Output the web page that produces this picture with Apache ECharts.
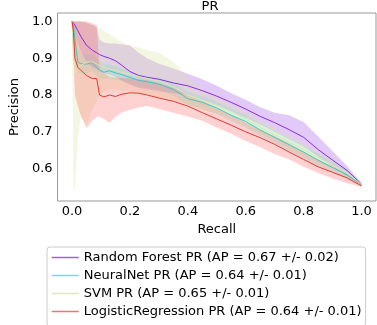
<!DOCTYPE html>
<html><head><meta charset="utf-8">
<script src="https://cdn.jsdelivr.net/npm/echarts@6/dist/echarts.min.js"></script>
<style>html,body{margin:0;padding:0;background:#fff}#c{width:377px;height:325px}</style>
</head><body><div id="c"></div>
<script>
const recall = [0,0.005,0.01,0.02,0.03,0.05,0.07,0.085,0.095,0.11,0.13,0.15,0.17,0.2,0.23,0.26,0.3,0.35,0.4,0.45,0.5,0.55,0.6,0.65,0.7,0.75,0.8,0.85,0.9,0.95,1.0];

const rfMean  = [1.0,0.995,0.99,0.975,0.96,0.935,0.922,0.915,0.91,0.905,0.9,0.893,0.882,0.864,0.853,0.848,0.843,0.833,0.825,0.812,0.797,0.78,0.762,0.742,0.725,0.706,0.685,0.652,0.623,0.595,0.558];
const rfUpper = [1.0,1.0,1.0,1.0,1.0,0.995,0.99,0.985,0.95,0.943,0.94,0.94,0.938,0.935,0.915,0.9,0.885,0.872,0.858,0.843,0.825,0.805,0.787,0.767,0.752,0.745,0.727,0.687,0.647,0.607,0.56];
const rfLower = [1.0,0.99,0.97,0.94,0.92,0.89,0.875,0.87,0.865,0.86,0.855,0.85,0.84,0.828,0.82,0.815,0.81,0.805,0.8,0.787,0.772,0.755,0.738,0.72,0.7,0.68,0.66,0.633,0.605,0.58,0.555];

const nnMean  = [1.0,0.99,0.95,0.89,0.885,0.884,0.888,0.875,0.868,0.862,0.866,0.86,0.856,0.848,0.84,0.836,0.83,0.815,0.79,0.78,0.765,0.745,0.728,0.705,0.685,0.665,0.645,0.623,0.603,0.583,0.556];
const nnUpper = [1.0,1.0,0.99,0.93,0.915,0.91,0.91,0.9,0.89,0.882,0.884,0.878,0.873,0.865,0.857,0.852,0.846,0.832,0.808,0.797,0.782,0.762,0.745,0.722,0.702,0.682,0.662,0.64,0.618,0.596,0.558];
const nnLower = [1.0,0.97,0.9,0.86,0.86,0.86,0.865,0.852,0.846,0.842,0.846,0.842,0.838,0.831,0.823,0.82,0.814,0.798,0.772,0.763,0.748,0.728,0.711,0.688,0.668,0.648,0.628,0.606,0.588,0.57,0.554];

const svmMean  = [1.0,0.9,0.86,0.87,0.88,0.89,0.89,0.885,0.88,0.875,0.87,0.868,0.862,0.857,0.85,0.845,0.838,0.822,0.8,0.785,0.772,0.755,0.735,0.712,0.692,0.672,0.652,0.63,0.61,0.588,0.557];
const svmUpper = [1.0,1.0,1.0,1.0,1.0,1.0,0.99,0.985,0.982,0.975,0.965,0.955,0.945,0.935,0.93,0.922,0.915,0.89,0.85,0.815,0.795,0.775,0.755,0.73,0.71,0.69,0.668,0.645,0.622,0.598,0.56];
const svmLower = [1.0,0.535,0.55,0.68,0.74,0.72,0.76,0.785,0.8,0.81,0.815,0.815,0.812,0.81,0.805,0.8,0.795,0.785,0.775,0.76,0.75,0.735,0.715,0.695,0.675,0.655,0.635,0.615,0.598,0.578,0.554];

const lrMean  = [1.0,0.97,0.9,0.875,0.868,0.853,0.845,0.845,0.8,0.795,0.8,0.796,0.802,0.806,0.805,0.8,0.792,0.783,0.77,0.752,0.735,0.718,0.7,0.684,0.666,0.645,0.625,0.605,0.59,0.575,0.553];
const lrUpper = [1.0,1.0,1.0,1.0,1.0,1.0,0.995,0.99,0.87,0.86,0.85,0.848,0.847,0.845,0.843,0.84,0.832,0.82,0.8,0.785,0.765,0.745,0.725,0.705,0.688,0.668,0.645,0.625,0.605,0.585,0.556];
const lrLower = [1.0,0.9,0.8,0.77,0.745,0.71,0.73,0.74,0.742,0.735,0.725,0.74,0.752,0.76,0.766,0.77,0.762,0.752,0.742,0.73,0.712,0.695,0.675,0.658,0.64,0.625,0.605,0.588,0.573,0.56,0.55];

const names = ['Random Forest PR (AP = 0.67 +/- 0.02)','NeuralNet PR (AP = 0.64 +/- 0.01)','SVM PR (AP = 0.65 +/- 0.01)','LogisticRegression PR (AP = 0.64 +/- 0.01)'];
const xTicks = [0,0.2,0.4,0.6,0.8,1.0];
const yTicks = [0.6,0.7,0.8,0.9,1.0];

const models = [
  {name:names[0], mean:rfMean, up:rfUpper, lo:rfLower, line:'#8a2be2', fill:'rgba(138,43,226,0.25)', leg:'#9d62d6'},
  {name:names[1], mean:nnMean, up:nnUpper, lo:nnLower, line:'#3cc8c4', fill:'rgba(64,224,208,0.22)', leg:'#6fe0e0'},
  {name:names[2], mean:svmMean, up:svmUpper, lo:svmLower, line:'#dfe3b0', fill:'rgba(215,228,160,0.3)', leg:'#e2e6b8'},
  {name:names[3], mean:lrMean, up:lrUpper, lo:lrLower, line:'#e03a2a', fill:'rgba(255,90,90,0.28)', leg:'#ee7272'}
];

const series = [];
models.forEach((m,i)=>{
  series.push({
    type:'custom', name:'band'+i, z:1, silent:true, data:[0],
    renderItem:(params, api)=>{
      const pts=[];
      for(let k=0;k<recall.length;k++) pts.push(api.coord([recall[k], m.up[k]]));
      for(let k=recall.length-1;k>=0;k--) pts.push(api.coord([recall[k], m.lo[k]]));
      return {type:'polygon', shape:{points:pts}, style:{fill:m.fill}};
    }
  });
});
models.forEach((m,i)=>{
  series.push({
    type:'line', name:m.name, z:3, symbol:'none', silent:true,
    data: recall.map((r,k)=>[r, m.mean[k]]),
    lineStyle:{color:m.line, width:1}, itemStyle:{color:m.line}
  });
});

const chart = echarts.init(document.getElementById('c'));
chart.setOption({
  animation:false,
  title:{text:'PR', left:210, top:0, padding:0, textAlign:'center', textStyle:{fontFamily:'DejaVu Sans', fontSize:13, fontWeight:'normal', color:'#000'}},
  grid:{left:43, right:1, top:13, bottom:124, show:true, borderColor:'#999', borderWidth:1},
  xAxis:{type:'value', min:-0.05, max:1.05, name:'Recall', nameLocation:'middle', nameGap:16,
    nameTextStyle:{fontFamily:'DejaVu Sans', fontSize:13, color:'#000'},
    axisLine:{show:false}, axisTick:{show:false}, splitLine:{show:false},
    axisLabel:{customValues:xTicks, formatter:v=>v.toFixed(1), fontFamily:'DejaVu Sans', fontSize:13, color:'#000', margin:4}},
  yAxis:{type:'value', min:0.512, max:1.023, name:'Precision', nameLocation:'middle', nameGap:36,
    nameTextStyle:{fontFamily:'DejaVu Sans', fontSize:13, color:'#000'},
    axisLine:{show:false}, axisTick:{show:false}, splitLine:{show:false},
    axisLabel:{customValues:yTicks, formatter:v=>v.toFixed(1), fontFamily:'DejaVu Sans', fontSize:13, color:'#000', margin:5}},
  legend:{orient:'vertical', left:47, top:247, height:120, padding:[4,4,8,4], itemGap:5, itemWidth:27, itemHeight:14,
    backgroundColor:'#fff', borderColor:'#ccc', borderWidth:1, borderRadius:3,
    textStyle:{fontFamily:'DejaVu Sans', fontSize:13, color:'#000'},
    data: models.map(m=>({name:m.name, lineStyle:{color:m.leg, width:1.5}, itemStyle:{color:'rgba(0,0,0,0)', borderWidth:0}}))},
  series: series
});
</script></body></html>
